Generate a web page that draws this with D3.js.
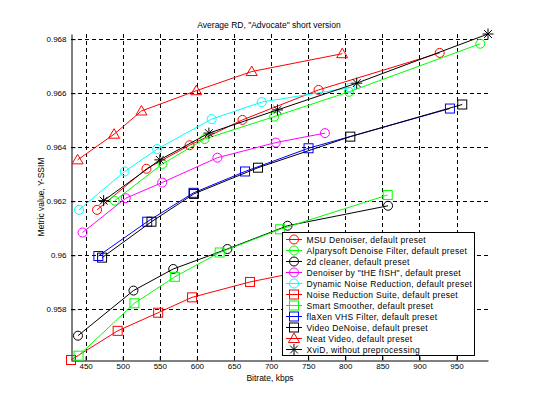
<!DOCTYPE html>
<html>
<head>
<meta charset="utf-8">
<script src="https://cdn.jsdelivr.net/npm/d3@7"></script>
<style>
  body { margin: 0; background: #fff; }
  svg { display: block; }
  text { font-family: "Liberation Sans", Arial, sans-serif; fill: #000; }
</style>
</head>
<body>
<svg id="chart" width="542" height="396"></svg>
<script>
// ---- data ----
const seriesNames = [
  "MSU Denoiser, default preset",
  "Alparysoft Denoise Filter, default preset",
  "2d cleaner, default preset",
  "Denoiser by \"tHE fISH\", default preset",
  "Dynamic Noise Reduction, default preset",
  "Noise Reduction Suite, default preset",
  "Smart Smoother, default preset",
  "flaXen VHS Filter, default preset",
  "Video DeNoise, default preset",
  "Neat Video, default preset",
  "XviD, without preprocessing"
];
const seriesColors = ["#ff0000","#00ff00","#000000","#ff00ff","#00ffff","#ff0000","#00ff00","#0000ff","#000000","#ff0000","#000000"];
const seriesMarkers = ["circle","circle","circle","circle","circle","square","square","square","square","triangle","star"];

const msuBitrate      = [465.4, 532.0, 590.1, 661.4, 764.0, 927.3];
const msuValue        = [0.96168, 0.96320, 0.96407, 0.96501, 0.96612, 0.96749];
const alparyBitrate   = [489.2, 553.6, 610.4, 704.1, 805.0, 982.0];
const alparyValue     = [0.96202, 0.96338, 0.96430, 0.96513, 0.96605, 0.96783];
const cleanerBitrate  = [439.7, 514.5, 568.1, 641.1, 722.2, 857.7];
const cleanerValue    = [0.95702, 0.95869, 0.95949, 0.96023, 0.96109, 0.96183];
const fishBitrate     = [445.9, 504.1, 553.2, 627.6, 706.4, 772.6];
const fishValue       = [0.96084, 0.96211, 0.96269, 0.96361, 0.96417, 0.96452];
const dnrBitrate      = [441.1, 502.7, 546.5, 619.9, 687.4, 806.4];
const dnrValue        = [0.96168, 0.96310, 0.96393, 0.96504, 0.96567, 0.96620];
const nrsBitrate      = [430.3, 493.2, 547.8, 593.5, 671.6, 850.0];
const nrsValue        = [0.95612, 0.95720, 0.95787, 0.95844, 0.95901, 0.96000];
const smartBitrate    = [440.5, 515.8, 570.3, 630.7, 712.2, 857.2];
const smartValue      = [0.95628, 0.95822, 0.95920, 0.96010, 0.96096, 0.96223];
const flaxenBitrate   = [467.2, 533.0, 595.5, 664.9, 750.5, 941.1];
const flaxenValue     = [0.95997, 0.96124, 0.96231, 0.96310, 0.96396, 0.96543];
const videoDnBitrate  = [472.2, 538.8, 595.9, 682.4, 806.8, 957.7];
const videoDnValue    = [0.95991, 0.96124, 0.96227, 0.96324, 0.96439, 0.96558];
const neatBitrate     = [439.2, 488.4, 525.3, 599.2, 673.9, 795.9];
const neatValue       = [0.96353, 0.96448, 0.96534, 0.96609, 0.96680, 0.96746];
const xvidBitrate     = [474.3, 550.0, 616.2, 708.6, 815.4, 992.4];
const xvidValue       = [0.96202, 0.96353, 0.96452, 0.96538, 0.96637, 0.96819];

const xTicks = [450, 500, 550, 600, 650, 700, 750, 800, 850, 900, 950];
const yTicks = [0.958, 0.960, 0.962, 0.964, 0.966, 0.968];
const yTickLabels = ["0.958", "0.96", "0.962", "0.964", "0.966", "0.968"];

const titleText = "Average RD, \"Advocate\" short version";
const xLabelText = "Bitrate, kbps";
const yLabelText = "Metric value, Y-SSIM";

const bitrates = [msuBitrate, alparyBitrate, cleanerBitrate, fishBitrate, dnrBitrate, nrsBitrate,
                  smartBitrate, flaxenBitrate, videoDnBitrate, neatBitrate, xvidBitrate];
const values   = [msuValue, alparyValue, cleanerValue, fishValue, dnrValue, nrsValue,
                  smartValue, flaxenValue, videoDnValue, neatValue, xvidValue];

const series = seriesNames.map((name, i) => ({
  name, color: seriesColors[i], marker: seriesMarkers[i],
  points: bitrates[i].map((b, j) => ({ x: b, y: values[i][j] }))
}));

// ---- layout ----
const L = 71, R = 488, T = 34, B = 360;
// last Noise Reduction Suite point lies hidden behind the legend; keep it out of the tight extent
const allPts = series.flatMap(s => s.name.startsWith("Noise Reduction") ? s.points.slice(0, 5) : s.points);
const x = d3.scaleLinear().domain(d3.extent(allPts, d => d.x)).range([L, R]);
const y = d3.scaleLinear().domain(d3.extent(allPts, d => d.y)).range([B, T]);

const svg = d3.select("#chart");

svg.append("defs").append("clipPath").attr("id", "plotclip")
  .append("rect").attr("x", L - 8).attr("y", T - 8).attr("width", R - L + 16).attr("height", B - T + 16);

// grid
const grid = svg.append("g").attr("stroke", "#000").attr("stroke-width", 1).attr("stroke-dasharray", "4,3").attr("shape-rendering", "crispEdges");
grid.selectAll(".gx").data(xTicks).join("line")
  .attr("x1", d => Math.round(x(d)) + 0.5).attr("x2", d => Math.round(x(d)) + 0.5)
  .attr("y1", B).attr("y2", T);
grid.selectAll(".gy").data(yTicks).join("line")
  .attr("y1", d => Math.round(y(d)) + 0.5).attr("y2", d => Math.round(y(d)) + 0.5)
  .attr("x1", L).attr("x2", R);

// axes
const xAxis = d3.axisBottom(x).tickValues(xTicks).tickSizeInner(-4).tickSizeOuter(0).tickPadding(3).tickFormat(d3.format("d"));
const yAxis = d3.axisLeft(y).tickValues(yTicks).tickSizeInner(-4).tickSizeOuter(0).tickPadding(5)
  .tickFormat((d, i) => yTickLabels[i]);

const gx = svg.append("g").attr("transform", `translate(0,${B + 0.5})`).call(xAxis);
const gy = svg.append("g").attr("transform", `translate(${L + 0.5},0)`).call(yAxis);
[gx, gy].forEach(g => {
  g.select(".domain").attr("stroke", "#000").attr("stroke-width", 1);
  g.selectAll(".tick line").attr("stroke", "#000");
  g.selectAll("text").attr("font-size", 8).attr("font-family", "\"Liberation Sans\", Arial, sans-serif").attr("fill", "#000");
});

function drawMarker(g, type, color, cx, cy) {
  if (type === "circle") {
    g.append("circle").attr("cx", cx).attr("cy", cy).attr("r", 4.5)
      .attr("fill", "none").attr("stroke", color).attr("stroke-width", 1);
  } else if (type === "square") {
    g.append("rect").attr("x", cx - 4.5).attr("y", cy - 4.5).attr("width", 9).attr("height", 9)
      .attr("fill", "none").attr("stroke", color).attr("stroke-width", 1);
  } else if (type === "triangle") {
    g.append("path").attr("d", `M${cx},${cy - 5.5}L${cx + 5.5},${cy + 4}L${cx - 5.5},${cy + 4}Z`)
      .attr("fill", "none").attr("stroke", color).attr("stroke-width", 1);
  } else if (type === "star") {
    const a = 5.5, b = 3.9;
    g.append("path").attr("d",
      `M${cx - a},${cy}L${cx + a},${cy}M${cx},${cy - a}L${cx},${cy + a}` +
      `M${cx - b},${cy - b}L${cx + b},${cy + b}M${cx - b},${cy + b}L${cx + b},${cy - b}`)
      .attr("fill", "none").attr("stroke", color).attr("stroke-width", 1);
  }
}

const line = d3.line().x(d => x(d.x)).y(d => y(d.y));
const plot = svg.append("g").attr("clip-path", "url(#plotclip)");
series.forEach(s => {
  const g = plot.append("g");
  g.append("path").attr("d", line(s.points)).attr("fill", "none").attr("stroke", s.color).attr("stroke-width", 1);
  s.points.forEach(p => drawMarker(g, s.marker, s.color, x(p.x), y(p.y)));
});

// title and labels
svg.append("text").attr("x", 269).attr("y", 28).attr("text-anchor", "middle").attr("font-size", 8.5).text(titleText);
svg.append("text").attr("x", 270).attr("y", 381).attr("text-anchor", "middle").attr("font-size", 8.5).text(xLabelText);
svg.append("text").attr("transform", `translate(44,${(T + B) / 2}) rotate(-90)`).attr("text-anchor", "middle")
  .attr("font-size", 8.5).text(yLabelText);

// legend
const lg = svg.append("g");
const lx = 282.5, ly = 232.5, lw = 192, lh = 123;
lg.append("rect").attr("x", lx).attr("y", ly).attr("width", lw).attr("height", lh)
  .attr("fill", "#fff").attr("stroke", "#000").attr("stroke-width", 1);
series.forEach((s, i) => {
  const yy = 239.5 + i * 11;
  lg.append("line").attr("x1", 286).attr("x2", 302).attr("y1", yy).attr("y2", yy)
    .attr("stroke", s.color).attr("stroke-width", 1);
  drawMarker(lg, s.marker, s.color, 294, yy);
  lg.append("text").attr("x", 306.5).attr("y", yy + 3).attr("font-size", 8.5)
    .attr("letter-spacing", 0.3).text(s.name);
});
</script>
</body>
</html>
